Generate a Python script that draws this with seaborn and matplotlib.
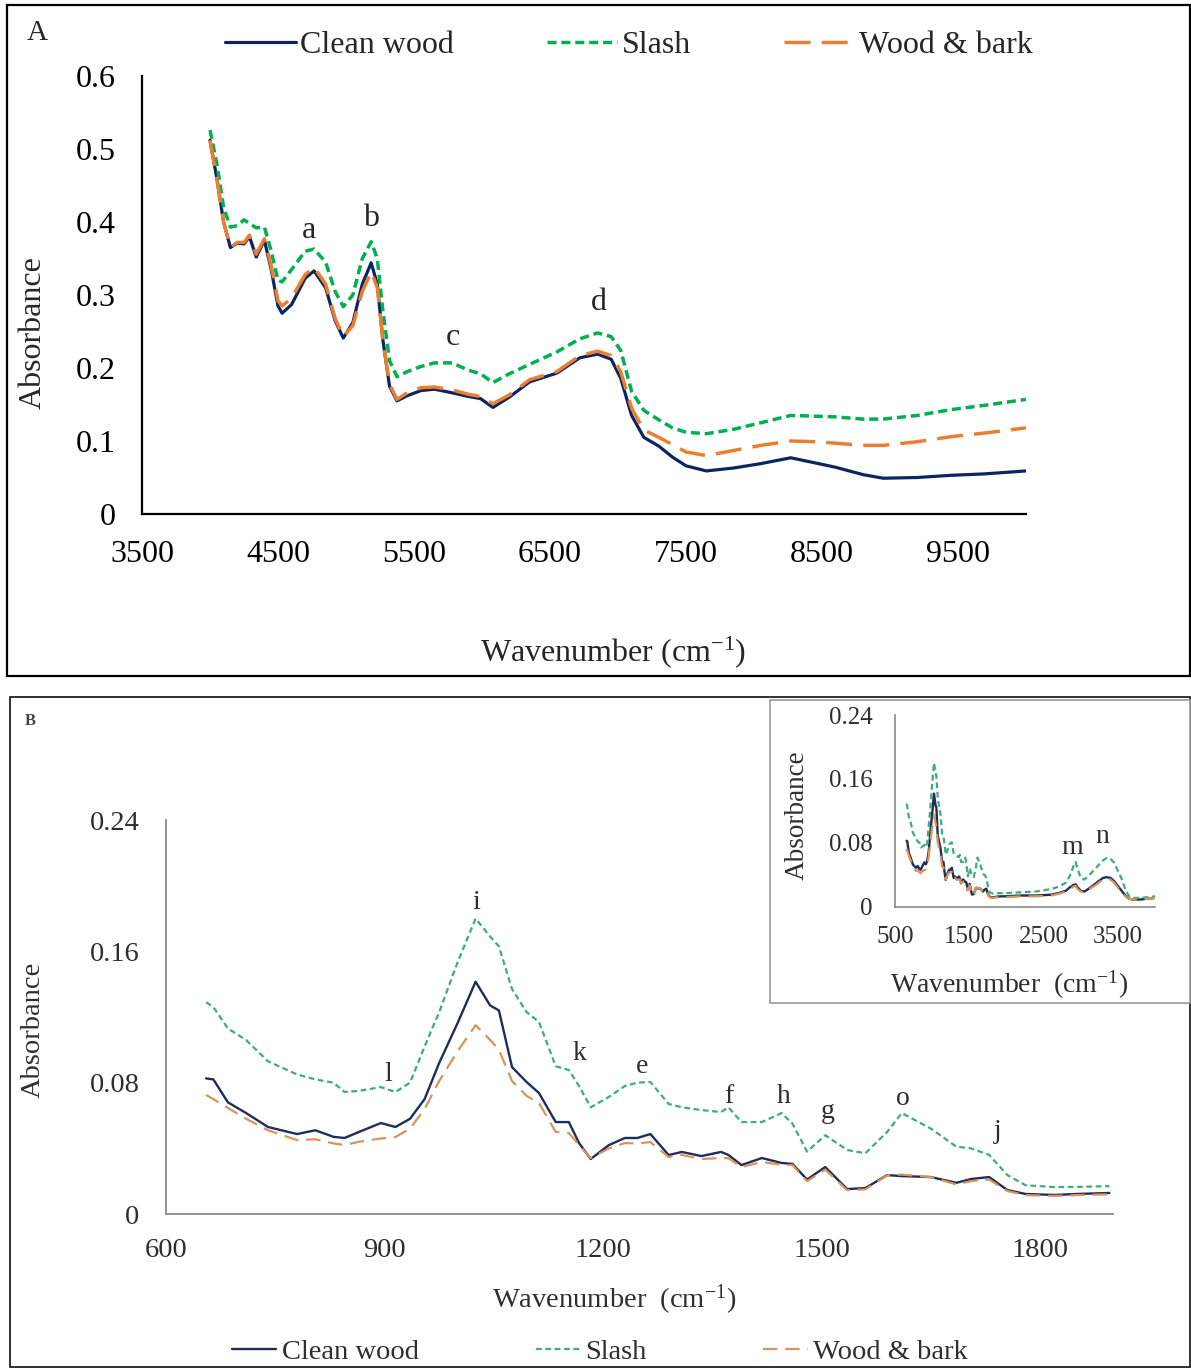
import numpy as np
import pandas as pd
import matplotlib
matplotlib.use("Agg")
import matplotlib.pyplot as plt
import seaborn as sns
from matplotlib.patches import Rectangle
from matplotlib.lines import Line2D

# ---------------- Data: panel A (NIR) ----------------
A_WAVE = [4000, 4050, 4100, 4150, 4200, 4250, 4290, 4340, 4400, 4450, 4500, 4530, 4600, 4700,
          4765, 4850, 4920, 4980, 5050, 5120, 5185, 5230, 5270, 5320, 5375, 5450, 5550, 5650,
          5780, 5900, 5990, 6080, 6200, 6350, 6550, 6720, 6850, 6950, 7020, 7100, 7190, 7300,
          7400, 7500, 7650, 7850, 8050, 8270, 8450, 8600, 8800, 8950, 9200, 9450, 9700, 10000]
A_CLEAN = [0.512, 0.46, 0.40, 0.365, 0.371, 0.37, 0.38, 0.352, 0.375, 0.335, 0.285, 0.275, 0.287, 0.323,
           0.333, 0.31, 0.265, 0.241, 0.262, 0.315, 0.344, 0.315, 0.24, 0.175, 0.155, 0.162, 0.169, 0.171,
           0.166, 0.161, 0.158, 0.146, 0.16, 0.181, 0.193, 0.214, 0.219, 0.212, 0.186, 0.135, 0.105, 0.093,
           0.078, 0.066, 0.059, 0.063, 0.069, 0.077, 0.07, 0.064, 0.054, 0.049, 0.05, 0.053, 0.055, 0.059]
A_SLASH = [0.526, 0.48, 0.42, 0.393, 0.395, 0.403, 0.398, 0.392, 0.393, 0.36, 0.32, 0.318, 0.335, 0.36,
           0.363, 0.345, 0.305, 0.284, 0.30, 0.35, 0.373, 0.35, 0.28, 0.21, 0.188, 0.195, 0.202, 0.207,
           0.207, 0.197, 0.192, 0.18, 0.192, 0.205, 0.222, 0.24, 0.248, 0.243, 0.224, 0.168, 0.142, 0.129,
           0.118, 0.112, 0.11, 0.116, 0.125, 0.135, 0.134, 0.133, 0.13, 0.13, 0.135, 0.143, 0.149, 0.157]
A_BARK = [0.512, 0.46, 0.40, 0.365, 0.372, 0.372, 0.382, 0.356, 0.377, 0.34, 0.292, 0.285, 0.296, 0.328,
          0.338, 0.315, 0.268, 0.243, 0.258, 0.305, 0.332, 0.31, 0.24, 0.178, 0.157, 0.166, 0.173, 0.174,
          0.17, 0.164, 0.161, 0.151, 0.163, 0.184, 0.195, 0.217, 0.223, 0.217, 0.195, 0.145, 0.115, 0.105,
          0.095, 0.085, 0.08, 0.087, 0.094, 0.1, 0.099, 0.097, 0.094, 0.094, 0.099, 0.106, 0.111, 0.118]
A_XTICKS = [3500, 4500, 5500, 6500, 7500, 8500, 9500]
A_YTICKS = [0, 0.1, 0.2, 0.3, 0.4, 0.5, 0.6]
A_YTICK_LABELS = ["0", "0.1", "0.2", "0.3", "0.4", "0.5", "0.6"]
A_PEAKS = ["a", "b", "c", "d"]
A_PEAK_X = [4728, 5184, 5787, 6860]
A_PEAK_Y = [0.388, 0.405, 0.242, 0.290]

# ---------------- Data: panel B (MIR, 650-1900) ----------------
B_WAVE = [655, 665, 685, 710, 740, 780, 805, 830, 845, 865, 895, 915, 935, 955, 975, 1000, 1025,
          1045, 1057, 1075, 1095, 1112, 1135, 1153, 1167, 1183, 1208, 1230, 1247, 1265, 1290, 1308,
          1335, 1362, 1372, 1390, 1418, 1445, 1460, 1480, 1505, 1535, 1560, 1590, 1610, 1650, 1685,
          1705, 1730, 1755, 1780, 1820, 1850, 1895]
B_CLEAN = [0.0826, 0.082, 0.068, 0.0615, 0.053, 0.0487, 0.051, 0.047, 0.0463, 0.050, 0.0554, 0.053,
           0.058, 0.070, 0.092, 0.116, 0.1415, 0.127, 0.124, 0.0895, 0.0804, 0.0737, 0.056, 0.056,
           0.0432, 0.0335, 0.042, 0.0463, 0.0463, 0.0487, 0.0359, 0.0378, 0.0353, 0.0378, 0.036, 0.0298,
           0.0341, 0.0311, 0.0305, 0.021, 0.0286, 0.0152, 0.0158, 0.0237, 0.0231, 0.0225, 0.019, 0.0213,
           0.0225, 0.0146, 0.0122, 0.0116, 0.0122, 0.0128]
B_SLASH = [0.129, 0.126, 0.113, 0.106, 0.093, 0.085, 0.082, 0.080, 0.0743, 0.075, 0.0773, 0.0743,
           0.080, 0.102, 0.123, 0.153, 0.180, 0.169, 0.163, 0.137, 0.123, 0.117, 0.090, 0.0877,
           0.078, 0.065, 0.0713, 0.078, 0.080, 0.0804, 0.067, 0.065, 0.0633, 0.0621, 0.065, 0.056,
           0.056, 0.0615, 0.055, 0.038, 0.048, 0.039, 0.037, 0.050, 0.0615, 0.052, 0.041, 0.040,
           0.036, 0.0237, 0.0175, 0.0164, 0.0165, 0.017]
B_BARK = [0.0725, 0.070, 0.0646, 0.058, 0.051, 0.045, 0.0455, 0.043, 0.042, 0.044, 0.046, 0.0469,
          0.052, 0.064, 0.081, 0.099, 0.115, 0.106, 0.100, 0.081, 0.072, 0.0676, 0.050, 0.0493,
          0.042, 0.034, 0.040, 0.0432, 0.043, 0.0438, 0.0347, 0.036, 0.0335, 0.0341, 0.034, 0.0286,
          0.0317, 0.030, 0.0298, 0.020, 0.027, 0.0145, 0.015, 0.0235, 0.024, 0.0225, 0.018, 0.020,
          0.021, 0.014, 0.0115, 0.011, 0.0115, 0.012]
B_XTICKS = [600, 900, 1200, 1500, 1800]
B_YTICKS = [0, 0.08, 0.16, 0.24]
B_YTICK_LABELS = ["0", "0.08", "0.16", "0.24"]
B_PEAKS = ["i", "l", "k", "e", "f", "h", "g", "o", "j"]
B_PEAK_X = [1026, 905, 1168, 1253, 1373, 1448, 1508, 1612, 1742]
B_PEAK_Y = [0.190, 0.0847, 0.0975, 0.0901, 0.0713, 0.0713, 0.0627, 0.0706, 0.0505]

# ---------------- Data: inset extension (1900-4000) ----------------
I_WAVE = [1950, 2000, 2200, 2400, 2600, 2700, 2800, 2850, 2900, 2930, 2960, 3000, 3050, 3100, 3200,
          3300, 3350, 3400, 3450, 3500, 3550, 3600, 3650, 3700, 3800, 3900, 4000]
I_CLEAN = [0.013, 0.013, 0.014, 0.014, 0.015, 0.017, 0.02, 0.024, 0.027, 0.028, 0.024, 0.02, 0.019,
           0.022, 0.029, 0.036, 0.037, 0.036, 0.032, 0.026, 0.02, 0.014, 0.01, 0.009, 0.009, 0.01, 0.011]
I_SLASH = [0.017, 0.017, 0.018, 0.019, 0.022, 0.025, 0.03, 0.038, 0.05, 0.056, 0.047, 0.036, 0.034,
           0.038, 0.048, 0.058, 0.061, 0.06, 0.055, 0.045, 0.035, 0.022, 0.013, 0.011, 0.011, 0.012, 0.013]
I_BARK = [0.012, 0.012, 0.013, 0.013, 0.014, 0.016, 0.019, 0.022, 0.025, 0.026, 0.022, 0.019, 0.018,
          0.021, 0.027, 0.034, 0.035, 0.034, 0.030, 0.024, 0.018, 0.013, 0.010, 0.009, 0.009, 0.010, 0.011]
I_XTICKS = [500, 1500, 2500, 3500]
I_PEAKS = ["m", "n"]
I_PEAK_X = [2887, 3287]
I_PEAK_Y = [0.0735, 0.0885]

SERIES = ["Clean wood", "Slash", "Wood & bark"]

# ---------------- Style ----------------
sns.set_style("white")
plt.rcParams['font.family'] = ['Liberation Serif', 'DejaVu Serif']
plt.rcParams['mathtext.fontset'] = 'custom'
plt.rcParams['mathtext.rm'] = 'Liberation Serif'
plt.rcParams['mathtext.it'] = 'Liberation Serif:italic'

W, H = 1191, 1368
fig = plt.figure(figsize=(W / 100, H / 100), dpi=100)
fig.patch.set_facecolor("white")


def fx(px):
    return px / W


def fy(py):
    return 1 - py / H


def box(x0, y0, x1, y1, ec, lw, zorder=1, fc="none"):
    r = Rectangle((fx(x0), fy(y1)), (x1 - x0) / W, (y1 - y0) / H, transform=fig.transFigure,
                  facecolor=fc, edgecolor=ec, linewidth=lw, zorder=zorder)
    fig.patches.append(r)


def draw(ax, x, y, color, dashes, lw):
    ls = '-' if dashes is None else (0, dashes)
    sns.lineplot(x=x, y=y, ax=ax, color=color, linestyle=ls, linewidth=lw,
                 estimator=None, sort=False, legend=False)


def style_axes(ax, spine_color, spine_lw):
    for s in ["top", "right"]:
        ax.spines[s].set_visible(False)
    for s in ["left", "bottom"]:
        ax.spines[s].set_color(spine_color)
        ax.spines[s].set_linewidth(spine_lw)
    ax.set_facecolor("none")
    ax.set_xlabel("")
    ax.set_ylabel("")


# ---------------- Panel A ----------------
box(7, 5, 1190, 676, "black", 1.6)
A_COLORS = ["#0B2560", "#00B050", "#ED7D31"]
A_DASH = [None, (2.6, 1.4), (7.5, 3.2)]
A_LW = [2.3, 2.5, 2.5]
axA = fig.add_axes([fx(142), fy(514), (1026 - 142) / W, (514 - 76) / H])
for ys, c, d, lw in zip([A_CLEAN, A_SLASH, A_BARK], A_COLORS, A_DASH, A_LW):
    draw(axA, A_WAVE, ys, c, d, lw)
axA.set_xlim(3500, 10000)
axA.set_ylim(0, 0.6)
axA.set_xticks(A_XTICKS)
axA.set_xticklabels([str(t) for t in A_XTICKS])
axA.set_yticks(A_YTICKS)
axA.set_yticklabels(A_YTICK_LABELS)
style_axes(axA, "black", 1.6)
axA.tick_params(axis="both", length=0, labelsize=23, colors="black")
axA.tick_params(axis="y", pad=19)
axA.tick_params(axis="x", pad=18.5)
for lab, xx, yy in zip(A_PEAKS, A_PEAK_X, A_PEAK_Y):
    axA.text(xx, yy, lab, fontsize=23, ha="center", va="center")
fig.text(fx(37), fy(33), "A", fontsize=21, ha="center", va="center")
fig.text(fx(33), fy(333), "Absorbance", fontsize=23, rotation=90, ha="center", va="center")
fig.text(fx(613), fy(652), r"Wavenumber (cm$^{\mathregular{-1}}$)", fontsize=23, ha="center", va="center")
hA = [Line2D([], [], color=c, linestyle='-' if d is None else (0, d), linewidth=lw)
      for c, d, lw in zip(A_COLORS, A_DASH, A_LW)]
fig.legend(hA, SERIES, loc="center", bbox_to_anchor=(fx(629), fy(45)), ncol=3, frameon=False,
           fontsize=23, handlelength=2.2, handletextpad=0.15, columnspacing=2.9, borderpad=0)

# ---------------- Panel B ----------------
TXT_B = "#2e2e2e"
box(10, 697, 1190, 1367, "#222222", 1.3)
B_COLORS = ["#1F2D5C", "#3BAF78", "#D9935C"]
B_DASH = [None, (2.6, 1.6), (6.5, 3.5)]
B_LW = [1.7, 1.6, 1.6]
axB = fig.add_axes([fx(166), fy(1214), (1113 - 166) / W, (1214 - 820) / H])
for ys, c, d, lw in zip([B_CLEAN, B_SLASH, B_BARK], B_COLORS, B_DASH, B_LW):
    draw(axB, B_WAVE, ys, c, d, lw)
axB.set_xlim(600, 1900)
axB.set_ylim(0, 0.24)
axB.set_xticks(B_XTICKS)
axB.set_xticklabels([str(t) for t in B_XTICKS])
axB.set_yticks(B_YTICKS)
axB.set_yticklabels(B_YTICK_LABELS)
style_axes(axB, "#8a8a8a", 1.3)
axB.tick_params(axis="both", length=0, labelsize=20.5, colors=TXT_B)
axB.tick_params(axis="y", pad=19)
axB.tick_params(axis="x", pad=17)
for lab, xx, yy in zip(B_PEAKS, B_PEAK_X, B_PEAK_Y):
    axB.text(xx, yy, lab, fontsize=20, ha="center", va="center", color=TXT_B)
fig.text(fx(30), fy(721), "B", fontsize=12, fontweight="bold", ha="center", va="center", color="#444444")
fig.text(fx(33), fy(1030), "Absorbance", fontsize=20.5, rotation=90, ha="center", va="center", color=TXT_B)
fig.text(fx(614), fy(1300), r"Wavenumber  (cm$^{\mathregular{-1}}$)", fontsize=20.5, ha="center", va="center",
         color=TXT_B)
hB = [Line2D([], [], color=c, linestyle='-' if d is None else (0, d), linewidth=lw)
      for c, d, lw in zip(B_COLORS, B_DASH, B_LW)]
legB = fig.legend(hB, SERIES, loc="center", bbox_to_anchor=(fx(600), fy(1352)), ncol=3, frameon=False,
                  fontsize=20.5, handlelength=1.55, handletextpad=0.2, columnspacing=4.1, borderpad=0)
for t in legB.get_texts():
    t.set_color(TXT_B)

# ---------------- Inset ----------------
box(770, 700, 1190, 1003, "#9a9a9a", 1.2, zorder=2, fc="white")
axI = fig.add_axes([fx(895), fy(906.7), (1155 - 895) / W, (906.7 - 715) / H])
axI.set_zorder(5)
for ysB, ysI, c, d, lw in zip([B_CLEAN, B_SLASH, B_BARK], [I_CLEAN, I_SLASH, I_BARK],
                              B_COLORS, B_DASH, B_LW):
    draw(axI, B_WAVE + I_WAVE, ysB + ysI, c, d, lw)
axI.set_xlim(500, 4000)
axI.set_ylim(0, 0.24)
axI.set_xticks(I_XTICKS)
axI.set_xticklabels([str(t) for t in I_XTICKS])
axI.set_yticks(B_YTICKS)
axI.set_yticklabels(B_YTICK_LABELS)
style_axes(axI, "#8a8a8a", 1.2)
axI.tick_params(axis="both", length=0, labelsize=18, colors=TXT_B)
axI.tick_params(axis="y", pad=16)
axI.tick_params(axis="x", pad=14)
for lab, xx, yy in zip(I_PEAKS, I_PEAK_X, I_PEAK_Y):
    axI.text(xx, yy, lab, fontsize=20, ha="center", va="center", color=TXT_B)
fig.text(fx(797), fy(815), "Absorbance", fontsize=19.5, rotation=90, ha="center", va="center",
         color=TXT_B, zorder=6)
fig.text(fx(1009), fy(985), r"Wavenumber  (cm$^{\mathregular{-1}}$)", fontsize=20, ha="center", va="center",
         color=TXT_B, zorder=6)

fig.savefig("out.png", dpi=100, facecolor="white")
